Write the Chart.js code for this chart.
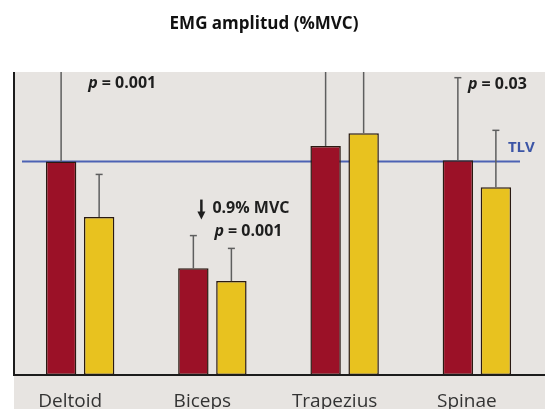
<!DOCTYPE html>
<html>
<head>
<meta charset="utf-8">
<script src="https://cdn.jsdelivr.net/npm/chart.js@4.4.1/dist/chart.umd.min.js"></script>
<style>
  html, body { margin: 0; padding: 0; background: #fff; }
  #wrap { width: 545px; height: 409px; position: relative; }
</style>
</head>
<body>
<div id="wrap"><canvas id="emg"></canvas></div>
<script>
  // data (%MVC)
  var titleText = "EMG amplitud (%MVC)";
  var categories = ["Deltoid", "Biceps", "Trapezius", "Spinae"];
  var seriesRed = [15.0, 7.5, 16.1, 15.1];
  var seriesYellow = [11.1, 6.6, 17.0, 13.2];
  var errRed = [8.0, 2.3, 8.0, 5.8];
  var errYellow = [3.0, 2.3, 8.0, 4.0];
  var tlv = 15.0;
  var yMax = 21.3;
  // annotation text: [category index, value]
  var notes = [
    { cat: 0, v: 20.5, dx: 8, text: "0.001" },
    { cat: 3, v: 20.4, dx: -9, text: "0.03" },
    { cat: 1, v: 10.1, dx: 2, text: "0.001" }
  ];
  var diffNote = { cat: 1, v: 11.7, text: "0.9% MVC" };

  var FONT = "'Open Sans', 'Noto Sans', sans-serif";

  var extras = {
    id: "extras",
    beforeDraw: function (chart) {
      var c = chart.ctx, a = chart.chartArea;
      c.save();
      c.fillStyle = "#e7e4e1";
      c.fillRect(a.left, a.top, chart.width - a.left, chart.height - a.top);
      c.restore();
    },
    beforeDatasetsDraw: function (chart) {
      var c = chart.ctx, a = chart.chartArea, y = chart.scales.y;
      var yy = y.getPixelForValue(tlv);
      c.save();
      c.strokeStyle = "#4d62b4";
      c.lineWidth = 2;
      c.beginPath();
      c.moveTo(a.left + 8, yy);
      c.lineTo(a.right - 23, yy);
      c.stroke();
      c.restore();
    },
    afterDatasetsDraw: function (chart) {
      var c = chart.ctx, a = chart.chartArea;
      var x = chart.scales.x, y = chart.scales.y;
      var errs = [errRed, errYellow];
      c.save();
      // error bars
      c.strokeStyle = "#5e5e5e";
      c.lineWidth = 1.5;
      chart.data.datasets.forEach(function (ds, di) {
        var meta = chart.getDatasetMeta(di);
        meta.data.forEach(function (bar, i) {
          var top = y.getPixelForValue(ds.data[i] + errs[di][i]);
          var capped = top >= a.top;
          if (!capped) top = a.top;
          c.beginPath();
          c.moveTo(bar.x, bar.y);
          c.lineTo(bar.x, top);
          c.stroke();
          if (capped) {
            c.beginPath();
            c.moveTo(bar.x - 3.5, top);
            c.lineTo(bar.x + 3.5, top);
            c.stroke();
          }
        });
      });
      // axes
      c.strokeStyle = "#1c1c1c";
      c.lineWidth = 2;
      c.beginPath();
      c.moveTo(a.left, a.top);
      c.lineTo(a.left, a.bottom);
      c.lineTo(chart.width, a.bottom);
      c.stroke();

      // p-values
      c.fillStyle = "#1e1e1e";
      c.textBaseline = "middle";
      c.textAlign = "left";
      notes.forEach(function (n) {
        var px = x.getPixelForValue(n.cat) + n.dx;
        var py = y.getPixelForValue(n.v);
        c.font = "italic bold 16px " + FONT;
        c.fillText("p", px, py);
        var w = c.measureText("p").width;
        c.font = "bold 16px " + FONT;
        c.fillText(" = " + n.text, px + w, py);
      });
      // difference note with arrow
      var dx0 = x.getPixelForValue(diffNote.cat);
      var dy0 = y.getPixelForValue(diffNote.v);
      c.font = "bold 16px " + FONT;
      c.fillText(diffNote.text, dx0, dy0);
      var ax = dx0 - 11;
      c.strokeStyle = "#1e1e1e";
      c.lineWidth = 2.5;
      c.beginPath();
      c.moveTo(ax, dy0 - 9);
      c.lineTo(ax, dy0 + 5);
      c.stroke();
      c.beginPath();
      c.moveTo(ax - 4, dy0 + 3);
      c.lineTo(ax + 4, dy0 + 3);
      c.lineTo(ax, dy0 + 11);
      c.closePath();
      c.fill();
      // TLV label
      c.fillStyle = "#3c55a6";
      c.font = "bold 15px " + FONT;
      c.fillText("TLV", x.getPixelForValue(3) + 31, y.getPixelForValue(tlv) - 14);
      // title
      c.fillStyle = "#111";
      c.textAlign = "center";
      c.font = "bold 17px " + FONT;
      c.fillText(titleText, 264, 24);
      c.restore();
    }
  };

  var ctx = document.getElementById("emg").getContext("2d");
  var chart = new Chart(ctx, {
    type: "bar",
    data: {
      labels: categories,
      datasets: [
        {
          label: "A",
          data: seriesRed,
          backgroundColor: "#9b1127",
          borderColor: "#2a1a12",
          borderWidth: 1.5,
          borderSkipped: false,
          categoryPercentage: 0.575,
          barPercentage: 0.8,
        },
        {
          label: "B",
          data: seriesYellow,
          backgroundColor: "#e8c21f",
          borderColor: "#2a1a12",
          borderWidth: 1.5,
          borderSkipped: false,
          categoryPercentage: 0.575,
          barPercentage: 0.8,
        },
      ],
    },
    options: {
      responsive: true,
      maintainAspectRatio: false,
      animation: false,
      layout: { padding: { left: 14, right: 2, top: 72, bottom: 0 } },
      plugins: {
        legend: { display: false },
        tooltip: { enabled: false },
        title: { display: false },
      },
      scales: {
        x: {
          grid: { display: false, drawTicks: false },
          border: { display: false },
          ticks: {
            color: "#333",
            font: { family: FONT, size: 19 },
            padding: 15,
            labelOffset: -10,
          },
          afterFit: function (s) { s.height = 34; },
        },
        y: {
          display: false,
          min: 0,
          max: yMax,
        },
      },
    },
    plugins: [extras],
  });
</script>
</body>
</html>
